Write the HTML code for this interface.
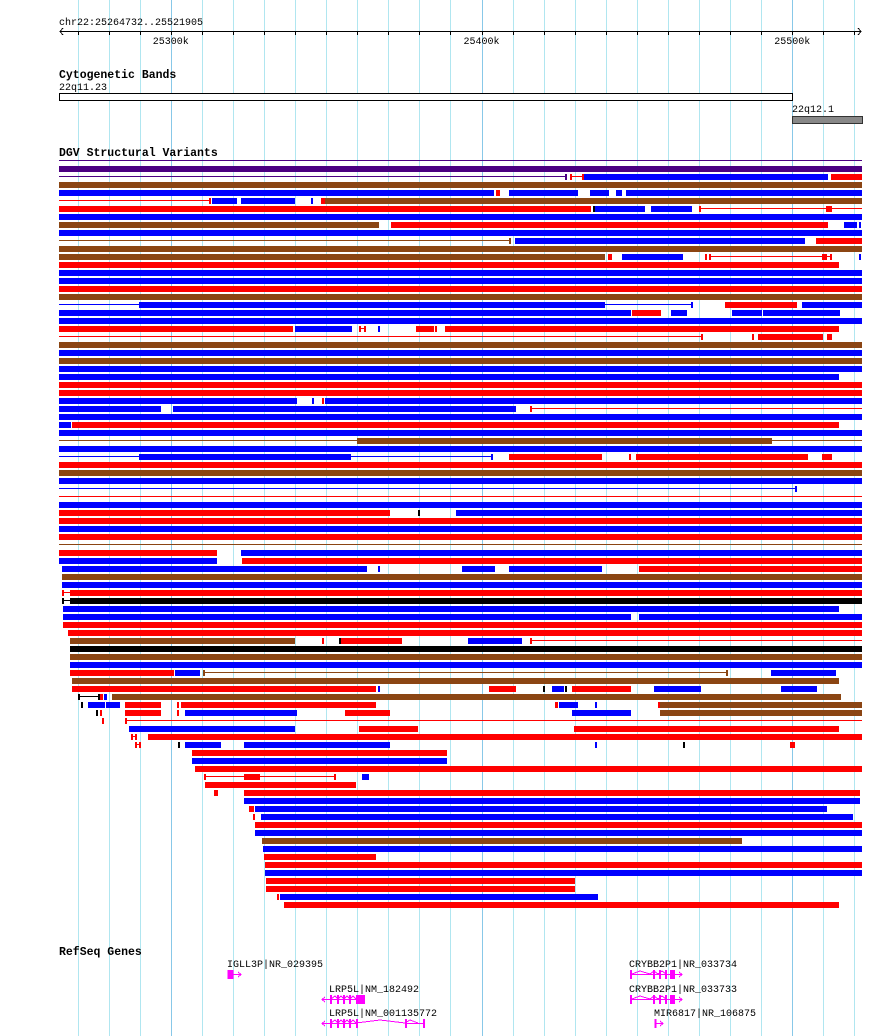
<!DOCTYPE html>
<html><head><meta charset="utf-8"><style>
html,body{margin:0;padding:0;background:#fff;}
svg{display:block;}
text{font-family:"Liberation Mono",monospace;}
</style></head><body>
<svg id="s" width="890" height="1036" xmlns="http://www.w3.org/2000/svg" shape-rendering="crispEdges">
<g id="grid"></g>
<text x="59" y="25" font-size="10" fill="#000">chr22:25264732..25521905</text>
<line x1="60" y1="31.5" x2="861" y2="31.5" stroke="#000" stroke-width="1"/>
<polyline points="63,28 60,31.5 63,35" fill="none" stroke="#000" stroke-width="1"/>
<polyline points="858,28 861,31.5 858,35" fill="none" stroke="#000" stroke-width="1"/>
<g id="ticks"></g>
<text x="170.8" y="44" font-size="10" text-anchor="middle">25300k</text>
<text x="481.5" y="44" font-size="10" text-anchor="middle">25400k</text>
<text x="792.2" y="44" font-size="10" text-anchor="middle">25500k</text>
<text x="59" y="78" font-size="11.5" font-weight="bold">Cytogenetic Bands</text>
<text x="59" y="90" font-size="10">22q11.23</text>
<rect x="59.5" y="93.5" width="733" height="7" fill="#fff" stroke="#000"/>
<text x="792" y="112" font-size="10">22q12.1</text>
<rect x="792.5" y="116.5" width="70" height="7" fill="#888" stroke="#333"/>
<text x="59" y="156" font-size="11.5" font-weight="bold">DGV Structural Variants</text>
<g id="dgv"></g>
<text x="59" y="955" font-size="11.5" font-weight="bold">RefSeq Genes</text>
<g fill="#000" font-size="10">
<text x="227" y="967">IGLL3P|NR_029395</text>
<text x="329" y="992">LRP5L|NM_182492</text>
<text x="329" y="1016">LRP5L|NM_001135772</text>
<text x="629" y="967">CRYBB2P1|NR_033734</text>
<text x="629" y="992">CRYBB2P1|NR_033733</text>
<text x="654" y="1016">MIR6817|NR_106875</text>
</g>
<g stroke="#f0f" fill="#f0f" stroke-width="1">
<rect x="227.5" y="970" width="6" height="9" stroke="none"/>
<line x1="233" y1="974.5" x2="241" y2="974.5"/><polyline points="238,972 241,974.5 238,977" fill="none"/>
<!-- LRP5L 1 -->
<line x1="322" y1="999.5" x2="365" y2="999.5"/><polyline points="325,997 322,999.5 325,1002" fill="none"/>
<polyline points="331,999 335,996 338,999 341,996 344,999 347,996 350,999 353,996 356,999" fill="none"/>
<rect x="330" y="995" width="2" height="9" stroke="none"/><rect x="337" y="995" width="2" height="9" stroke="none"/><rect x="343" y="995" width="2" height="9" stroke="none"/><rect x="349" y="995" width="2" height="9" stroke="none"/><rect x="356" y="995" width="9" height="9" stroke="none"/>
<!-- LRP5L 2 -->
<line x1="322" y1="1023.5" x2="358" y2="1023.5"/><polyline points="325,1021 322,1023.5 325,1026" fill="none"/>
<polyline points="331,1023 335,1020 338,1023 341,1020 344,1023 347,1020 350,1023 353,1020 356,1023 380,1020 405,1023 410,1020 418,1023" fill="none"/>
<line x1="405" y1="1023.5" x2="425" y2="1023.5"/>
<rect x="330" y="1019" width="2" height="9" stroke="none"/><rect x="337" y="1019" width="2" height="9" stroke="none"/><rect x="343" y="1019" width="2" height="9" stroke="none"/><rect x="349" y="1019" width="2" height="9" stroke="none"/><rect x="356" y="1019" width="2" height="9" stroke="none"/><rect x="405" y="1019" width="2" height="9" stroke="none"/><rect x="423" y="1019" width="2" height="9" stroke="none"/>
<!-- CRYBB2P1 -->
<line x1="630" y1="974.5" x2="682" y2="974.5"/><polyline points="679,972 682,974.5 679,977" fill="none"/>
<polyline points="632,974 640,971 650,974 654,971 658,974 662,971 666,974" fill="none"/>
<rect x="630" y="970" width="2" height="9" stroke="none"/><rect x="653" y="970" width="2" height="9" stroke="none"/><rect x="659" y="970" width="2" height="9" stroke="none"/><rect x="665" y="970" width="2" height="9" stroke="none"/><rect x="670" y="970" width="5" height="9" stroke="none"/>
<line x1="630" y1="999.5" x2="682" y2="999.5"/><polyline points="679,997 682,999.5 679,1002" fill="none"/>
<polyline points="632,999 640,996 650,999 654,996 658,999 662,996 666,999" fill="none"/>
<rect x="630" y="995" width="2" height="9" stroke="none"/><rect x="653" y="995" width="2" height="9" stroke="none"/><rect x="659" y="995" width="2" height="9" stroke="none"/><rect x="665" y="995" width="2" height="9" stroke="none"/><rect x="670" y="995" width="5" height="9" stroke="none"/>
<rect x="654.5" y="1019" width="2" height="9" stroke="none"/><line x1="656" y1="1023.5" x2="663" y2="1023.5"/><polyline points="660,1021 663,1023.5 660,1026" fill="none"/>
</g>
</svg>
<script>
var NS="http://www.w3.org/2000/svg";
function el(p,t,a){var e=document.createElementNS(NS,t);for(var k in a)e.setAttribute(k,a[k]);p.appendChild(e);return e;}
var grid=document.getElementById('grid'),ticks=document.getElementById('ticks');
for(var j=0;j<26;j++){var x=Math.round(170.8+31.07*(j-3));
 var dark=(j==3||j==13||j==23);
 el(grid,'rect',{x:x,y:0,width:1,height:1036,fill:dark?'#88c8e8':'#b0e6f0'});
 el(ticks,'rect',{x:x,y:31,width:1,height:4,fill:'#000'});}
var C={P:'#4b0082',B:'#0000ff',R:'#ff0000',N:'#8b4513',K:'#000000'};
function X(z){return 55+z/1.9358;}
var F=[['b','B',8,1562]],FR=[['b','R',8,1562]],FN=[['b','N',8,1562]];
var rows=[
[['l','P',8,1562]],
[['b','P',8,1562]],
[['l','P',8,990],['t','P',990],['t','R',998],['l','R',998,1022],['t','R',1022],['b','B',1024,1496],['b','R',1502,1562]],
FN,
[['b','B',8,850],['b','R',854,861],['b','B',879,1012],['b','B',1036,1072],['b','B',1086,1098],['b','B',1105,1562]],
[['l','R',8,302],['t','R',301],['b','B',303,352],['b','B',360,465],['t','B',498],['b','R',515,523],['b','N',523,1562]],
[['b','R',8,1038],['t','K',1043],['b','B',1046,1142],['b','B',1154,1233],['t','R',1248],['l','R',1248,1562],['b','R',1493,1504]],
F,
[['b','N',8,627],['b','R',650,1496],['b','B',1527,1553],['t','B',1559]],
F,
[['l','N',8,881],['t','N',881],['b','B',890,1452],['b','R',1473,1562]],
FN,
[['b','N',8,1065],['b','R',1070,1078],['b','B',1098,1216],['t','R',1261],['t','R',1267],['l','R',1267,1503],['b','R',1485,1494],['t','R',1503],['t','B',1559]],
[['b','R',8,1518]],
F,F,FR,FN,
[['l','B',8,163],['b','B',163,1065],['l','B',1065,1233],['t','B',1233],['b','R',1297,1436],['b','B',1446,1562]],
[['b','B',8,1115],['b','R',1117,1173],['b','B',1192,1223],['b','B',1311,1368],['b','B',1371,1520]],
F,
[['b','R',8,461],['b','B',465,575],['t','R',590],['l','R',590,601],['t','R',601],['t','B',628],['b','R',699,734],['t','R',737],['b','R',755,1518]],
[['l','R',8,1253],['t','R',1253],['t','R',1352],['b','R',1361,1487],['b','R',1494,1505]],
FN,F,FN,F,
[['b','B',8,1518]],
FR,FR,
[['b','B',8,468],['t','B',500],['t','R',519],['b','B',523,1562]],
[['b','B',8,205],['b','B',228,892],['t','R',921],['l','R',921,1562]],
F,
[['b','B',8,31],['b','R',33,1518]],
F,
[['l','N',8,1562],['b','N',585,1388]],
F,
[['l','B',8,163],['b','B',163,573],['l','B',573,845],['t','B',845],['b','R',879,1059],['t','R',1114],['b','R',1125,1458],['b','R',1485,1504]],
FR,FN,F,
[['l','B',8,1434],['t','B',1434]],
[['l','R',8,1562]],
F,
[['b','R',8,648],['t','K',705],['b','B',776,1562]],
FR,F,FR,
[['l','N',8,1562]],
[['b','R',8,314],['b','B',360,1562]],
[['b','B',8,314],['b','R',362,1562]],
[['b','B',14,604],['t','B',628],['b','B',788,852],['b','B',879,1059],['b','R',1131,1562]],
[['b','N',14,1562]],
[['b','B',14,1562]],
[['t','R',16],['l','R',16,29],['b','R',29,1562]],
[['t','K',16],['l','K',16,29],['b','K',29,1562]],
[['b','B',15,1518]],
[['b','B',15,1115],['b','B',1131,1562]],
[['b','R',15,1562]],
[['b','R',25,1562]],
[['b','N',29,465],['t','R',518],['t','K',551],['b','R',554,672],['b','B',799,904],['t','R',922],['l','R',922,1562]],
[['b','K',29,1562]],
[['b','N',29,1562]],
[['b','B',29,1562]],
[['b','R',29,230],['b','B',232,281],['t','N',289],['l','N',289,1301],['t','N',1301],['b','B',1386,1512]],
[['b','N',33,1518]],
[['b','R',33,621],['t','B',628],['b','R',840,892],['t','K',947],['b','B',962,985],['t','K',990],['b','R',1001,1115],['b','B',1160,1251],['b','B',1405,1475]],
[['t','K',47],['l','K',47,86],['t','K',86],['b','R',87,93],['b','B',95,101],['b','N',110,1522]],
[['t','K',53],['b','B',64,97],['b','B',99,126],['b','R',136,205],['b','R',236,241],['b','R',244,621],['b','R',968,974],['b','B',976,1012],['t','B',1047],['b','R',1167,1171],['b','N',1171,1562]],
[['t','K',82],['t','R',90],['b','R',136,205],['t','R',239],['b','B',252,468],['b','R',561,648],['b','B',1001,1115],['b','N',1171,1562]],
[['t','R',92],['t','R',138],['l','R',138,1562]],
[['b','B',143,465],['b','R',588,703],['b','R',1005,1518]],
[['t','R',149],['l','R',149,158],['t','R',156],['b','R',180,1562]],
[['t','R',157],['l','R',157,165],['t','R',164],['t','K',240],['b','B',252,321],['b','B',366,648],['t','B',1047],['t','K',1218],['b','R',1423,1432]],
[['b','R',265,759]],
[['b','B',265,759]],
[['b','R',271,1562]],
[['t','R',291],['l','R',291,542],['t','R',542],['b','R',366,397],['b','B',594,608]],
[['b','R',290,583]],
[['b','R',308,316],['b','R',366,1558]],
[['b','B',366,1558]],
[['b','R',376,385],['b','B',387,1494]],
[['t','R',386],['b','B',399,1545]],
[['b','R',387,1562]],
[['b','B',387,1562]],
[['b','N',401,1330]],
[['b','B',403,1562]],
[['b','R',405,621]],
[['b','R',407,1562]],
[['b','B',407,1562]],
[['b','R',408,1007]],
[['b','R',408,1007]],
[['t','R',432],['b','B',436,1051]],
[['b','R',443,1518]]
];
var g=document.getElementById('dgv');
rows.forEach(function(r,k){var top=158+8*k;
 r.forEach(function(s){var c=C[s[1]];
  if(s[0]=='b'){var x1=Math.round(X(s[2])),x2=Math.round(X(s[3]));el(g,'rect',{x:x1,y:top,width:Math.max(1,x2-x1),height:6,fill:c});}
  else if(s[0]=='l'){var x1=Math.round(X(s[2])),x2=Math.round(X(s[3]));el(g,'rect',{x:x1,y:top+2,width:Math.max(1,x2-x1),height:1,fill:c});}
  else {el(g,'rect',{x:Math.round(X(s[2]))-1,y:top,width:2,height:6,fill:c});}
 });
});
</script>
</body></html>
